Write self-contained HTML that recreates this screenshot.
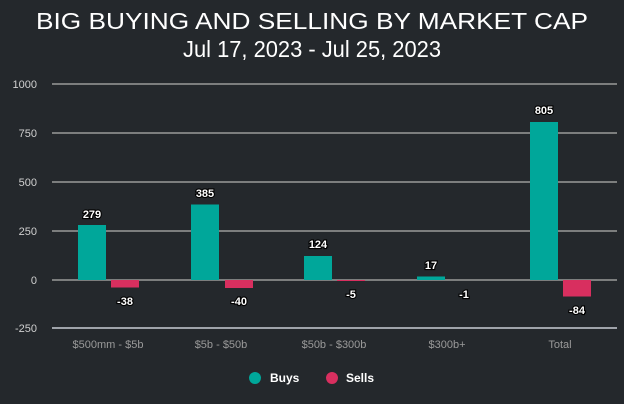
<!DOCTYPE html>
<html><head><style>
html,body{margin:0;padding:0;background:#24282c;}
svg{display:block;font-family:"Liberation Sans",sans-serif;}
.v{font-size:11px;font-weight:bold;fill:#fff;stroke:#000;stroke-width:2.2px;paint-order:stroke;text-anchor:middle;}
.y{font-size:11px;fill:#d0d0d0;text-anchor:end;}
.x{font-size:11px;fill:#9a9a9a;text-anchor:middle;}
</style></head><body>
<svg width="624" height="404" viewBox="0 0 624 404">
<rect width="624" height="404" fill="#24282c"/>
<text x="312" y="29" fill="#fff" font-size="23" text-anchor="middle" textLength="552" lengthAdjust="spacingAndGlyphs">BIG BUYING AND SELLING BY MARKET CAP</text>
<text x="312" y="57" fill="#fff" font-size="23" text-anchor="middle" textLength="258" lengthAdjust="spacingAndGlyphs">Jul 17, 2023 - Jul 25, 2023</text>
<g stroke="#9a9a9a" stroke-width="1.5">
<line x1="52" x2="617" y1="84" y2="84"/>
<line x1="52" x2="617" y1="133" y2="133"/>
<line x1="52" x2="617" y1="182" y2="182"/>
<line x1="52" x2="617" y1="231" y2="231"/>
<line x1="52" x2="617" y1="280" y2="280"/>
<line x1="52" x2="617" y1="328" y2="328" stroke="#c8ccd4"/>
</g>
<g class="y">
<text x="37" y="88">1000</text><text x="37" y="137">750</text><text x="37" y="186">500</text>
<text x="37" y="235">250</text><text x="37" y="284">0</text><text x="37" y="332">-250</text>
</g>
<g fill="#00a79a">
<rect x="78" y="225" width="28" height="55"/>
<rect x="191" y="204.5" width="28" height="75.5"/>
<rect x="304" y="256" width="28" height="24"/>
<rect x="417" y="276.5" width="28" height="3.5"/>
<rect x="530" y="122" width="28" height="158"/>
</g>
<g fill="#d82f5f">
<rect x="111" y="280" width="28" height="7.5"/>
<rect x="225" y="280" width="28" height="8"/>
<rect x="337" y="280" width="28" height="1"/>
<rect x="563" y="280" width="28" height="16.5"/>
</g>
<g class="v">
<text x="92" y="218">279</text>
<text x="205" y="197">385</text>
<text x="318" y="248">124</text>
<text x="431" y="269">17</text>
<text x="544" y="114">805</text>
<text x="125" y="305">-38</text>
<text x="239" y="305">-40</text>
<text x="351" y="298">-5</text>
<text x="464" y="298">-1</text>
<text x="577" y="314">-84</text>
</g>
<g class="x">
<text x="108" y="348">$500mm - $5b</text>
<text x="221" y="348">$5b - $50b</text>
<text x="334" y="348">$50b - $300b</text>
<text x="447" y="348">$300b+</text>
<text x="560" y="348">Total</text>
</g>
<circle cx="255" cy="378" r="6" fill="#00a79a"/>
<text x="270" y="382" fill="#fff" font-size="12" font-weight="bold">Buys</text>
<circle cx="332" cy="378" r="6" fill="#d82f5f"/>
<text x="346" y="382" fill="#fff" font-size="12" font-weight="bold">Sells</text>
</svg>
</body></html>
